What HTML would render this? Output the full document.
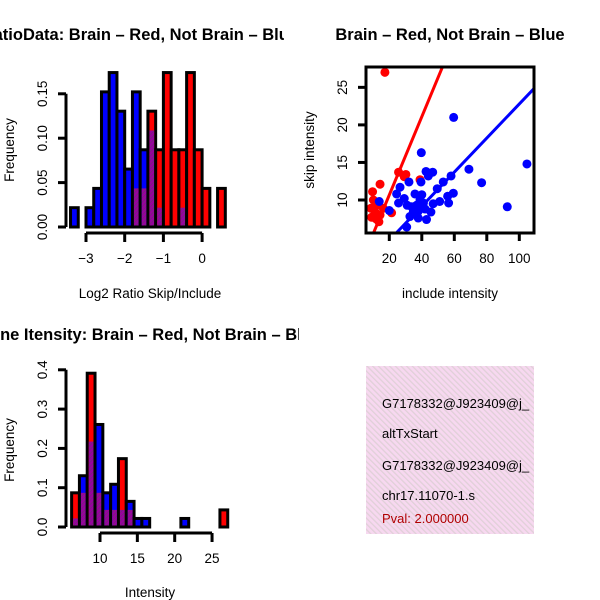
<!DOCTYPE html>
<html><head><meta charset="utf-8"><style>
html,body{margin:0;padding:0;background:#fff;width:600px;height:600px;overflow:hidden}
svg{display:block;font-family:"Liberation Sans",sans-serif}
</style></head><body>
<svg id="c" width="600" height="600" viewBox="0 0 600 600">
<defs>
<pattern id="hatch" width="3" height="3" patternUnits="userSpaceOnUse" patternTransform="rotate(45)">
<rect width="3" height="3" fill="#9a00a0"/><rect width="1" height="3" fill="#7a2080"/></pattern>
<pattern id="pink" width="4" height="4" patternUnits="userSpaceOnUse" patternTransform="rotate(-45)">
<rect width="4" height="4" fill="#f7d8f0"/><rect width="1.3" height="4" fill="#e0d0d8"/></pattern>
<clipPath id="sclip"><rect x="366" y="67" width="168" height="166"/></clipPath>
<clipPath id="bclip"><rect x="366" y="366" width="168" height="168"/></clipPath>
<clipPath id="t1clip"><rect x="0" y="0" width="284" height="60"/></clipPath>
<clipPath id="t3clip"><rect x="0" y="300" width="299" height="60"/></clipPath>
</defs>
<g clip-path="url(#t1clip)"><text x="298" y="40" font-size="16.5" font-weight="bold" text-anchor="end">RatioData: Brain – Red, Not Brain – Blue</text></g>
<text x="450" y="40" font-size="16.5" font-weight="bold" text-anchor="middle">Brain – Red, Not Brain – Blue</text>
<g clip-path="url(#t3clip)"><text x="321" y="340" font-size="16.5" font-weight="bold" text-anchor="end">Gene Itensity: Brain – Red, Not Brain – Blue</text></g>
<g id="g1"></g><g id="g2"></g><g id="g3"></g>
<g>
<rect x="366" y="366" width="168" height="168" fill="url(#pink)"/>
<g clip-path="url(#bclip)" font-size="13">
<text x="382" y="408">G7178332@J923409@j_</text>
<text x="382" y="438">altTxStart</text>
<text x="382" y="470">G7178332@J923409@j_</text>
<text x="382" y="500">chr17.11070-1.s</text>
<text x="382" y="523" fill="#b00000">Pval: 2.000000</text>
</g></g>
</svg>
<script>
// Ratio histogram data (bins of 0.2 from -3.4)
const ratioBinStart = -3.4, ratioBinWidth = 0.2;
const ratioBlueCounts = [1,0,1,2,7,8,6,3,7,4,5,1,0,0,1,0,0,0,0,0];
const ratioRedCounts  = [0,0,0,0,0,0,0,0,2,2,6,4,8,4,4,8,4,2,0,2];
const ratioTotal = 46;
const ratioXTicks = [-3,-2,-1,0];
const ratioYTicks = ["0.00","0.05","0.10","0.15"];
// Intensity histogram data
const intBinStart = 6.2, intBinWidth = 1.045;
const intBlueCounts = [1,6,10,12,4,5,2,3,1,1,0,0,0,0,1,0,0,0,0,0];
const intRedCounts  = [4,4,18,4,2,2,8,2,0,0,0,0,0,0,0,0,0,0,0,2];
const intTotal = 46;
const intXTicks = [10,15,20,25];
const intYTicks = ["0.0","0.1","0.2","0.3","0.4"];
// Scatter data
const blueInclude = [13.8,20,24.5,26.6,25.7,29.2,30.7,32.1,31,32.7,35.8,36.8,37.8,38.9,39.7,39.5,41,42.6,44,46.7,42.9,45.6,42,47,49.5,51,53.2,55.9,56.5,58,59.4,59.6,69,76.8,92.6,104.7,34.8,37.8,33.8,40];
const blueSkip = [9.8,8.6,10.8,11.7,9.6,10.2,6.4,12.4,9.3,7.8,10.8,9.3,8.5,10,16.3,12.4,9.6,13.8,13.2,13.7,7.4,8.4,8.8,9.5,11.5,9.8,12.4,10.5,9.6,13.2,10.9,21,14.1,12.3,9.1,14.8,8.4,7.6,9.1,10.7];
const redInclude = [17.3,25.7,30.2,29.2,38.9,14.3,9.7,10.2,8.7,11.2,12.2,13.6,14.3,16.3,21.4,9.1,11.8];
const redSkip = [27,13.7,13.4,13.1,12.7,12.1,11.1,10,8.9,8.4,9.3,7.1,8,8.9,8.3,7.7,7.5];
const redFit = [0.25,0.521];
const blueFit = [0.09,0.227];
const scatXTicks = [20,40,60,80,100];
const scatYTicks = [10,15,20,25];

const NS="http://www.w3.org/2000/svg";
function mk(p,tag,a){const e=document.createElementNS(NS,tag);for(const k in a)e.setAttribute(k,a[k]);p.appendChild(e);return e;}

function hist(g,o){
  const sx=v=>o.x0+(v-o.xv0)*o.xk, sy=v=>o.y0-v*o.yk;
  const ya=mk(g,'line',{x1:o.axX,x2:o.axX,y1:sy(0),y2:sy(o.yMax),stroke:'#000','stroke-width':3});
  
  
  o.yTicks.forEach((t,i)=>{
    const v=+t;
    const tk=mk(g,'line',{x1:o.axX-8,x2:o.axX,y1:sy(v),y2:sy(v),stroke:'#000','stroke-width':3});
    
    
    const tx=mk(g,'text',{x:o.axX-19,y:sy(v),'font-size':13.5,'text-anchor':'middle',transform:`rotate(-90 ${o.axX-19} ${sy(v)})`});
    
    
    tx.textContent=t;
  });
  const xa=mk(g,'line',{x1:sx(o.xTicks[0]),x2:sx(o.xTicks[o.xTicks.length-1]),y1:o.axY,y2:o.axY,stroke:'#000','stroke-width':3});
  
  
  o.xTicks.forEach(v=>{
    const tk=mk(g,'line',{x1:sx(v),x2:sx(v),y1:o.axY,y2:o.axY+9,stroke:'#000','stroke-width':3});
    
    
    const tx=mk(g,'text',{x:sx(v),y:o.axY+30,'font-size':13.5,'text-anchor':'middle'});
    
    
    tx.textContent=String(v).replace('-','\u2212');
  });
  o.blue.forEach((b,i)=>{
    const r=o.red[i], fb=b/o.total, fr=r/o.total;
    const l=sx(o.bs+i*o.bw), w=o.bw*o.xk, mx=Math.max(fb,fr), mn=Math.min(fb,fr);
    const rc=mk(g,'rect',{x:l,y:sy(mx),width:w,height:mx*o.yk,fill:fb>=fr?'#0000ff':'#ff0000',stroke:'#000','stroke-width':3});
    
    
    if(mn>0){
      const pr=mk(g,'rect',{x:l+1.5,y:sy(mn),width:w-3,height:mn*o.yk-1.5,fill:'url(#hatch)'});
      
      
    }
  });
  const t1=mk(g,'text',{x:o.ylx,y:o.yly,'font-size':13.5,'text-anchor':'middle',transform:`rotate(-90 ${o.ylx} ${o.yly})`});
  
  
  t1.textContent='Frequency';
  const t2=mk(g,'text',{x:150,y:o.xly,'font-size':13.5,'text-anchor':'middle'});
  
  
  t2.textContent=o.xlab;
}
hist(document.getElementById('g1'),{x0:86,xv0:-3,xk:38.7,y0:227,yk:888,axX:66,axY:233,yMax:0.15,
  yTicks:ratioYTicks,xTicks:ratioXTicks,blue:ratioBlueCounts,red:ratioRedCounts,total:ratioTotal,
  bs:ratioBinStart,bw:ratioBinWidth,ylx:14,yly:150,xly:298,xlab:'Log2 Ratio Skip/Include'});
hist(document.getElementById('g2'),{x0:100,xv0:10,xk:7.47,y0:527,yk:393,axX:66,axY:533,yMax:0.4,
  yTicks:intYTicks,xTicks:intXTicks,blue:intBlueCounts,red:intRedCounts,total:intTotal,
  bs:intBinStart,bw:intBinWidth,ylx:14,yly:450,xly:597,xlab:'Intensity'});

(function(){
  const g=document.getElementById('g3');
  const sx=v=>389.3+(v-20)*1.625, sy=v=>200-(v-10)*7.51;
  const cg=mk(g,'g',{'clip-path':'url(#sclip)'});
  redInclude.forEach((x,i)=>{
    const c=mk(cg,'circle',{cx:sx(x),cy:sy(redSkip[i]),r:4.5,fill:'#ff0000'});
    
    
  });
  blueInclude.forEach((x,i)=>{
    const c=mk(cg,'circle',{cx:sx(x),cy:sy(blueSkip[i]),r:4.5,fill:'#0000ff'});
    
    
  });
  [[redFit,'#ff0000','red-fit-line'],[blueFit,'#0000ff','blue-fit-line']].forEach(([f,col,nm])=>{
    const x1=0,x2=120;
    const l=mk(cg,'line',{x1:sx(x1),y1:sy(f[0]+f[1]*x1),x2:sx(x2),y2:sy(f[0]+f[1]*x2),stroke:col,'stroke-width':3});
    
    
  });
  const b=mk(g,'rect',{x:366,y:67,width:168,height:166,fill:'none',stroke:'#000','stroke-width':3});
  
  
  scatXTicks.forEach(v=>{
    const tk=mk(g,'line',{x1:sx(v),x2:sx(v),y1:233,y2:241,stroke:'#000','stroke-width':3});
    
    
    const tx=mk(g,'text',{x:sx(v),y:263,'font-size':13.5,'text-anchor':'middle'});
    
    
    tx.textContent=v;
  });
  scatYTicks.forEach(v=>{
    const tk=mk(g,'line',{x1:358,x2:366,y1:sy(v),y2:sy(v),stroke:'#000','stroke-width':3});
    
    
    const tx=mk(g,'text',{x:347,y:sy(v),'font-size':13.5,'text-anchor':'middle',transform:`rotate(-90 347 ${sy(v)})`});
    
    
    tx.textContent=v;
  });
  const t1=mk(g,'text',{x:314,y:150,'font-size':13.5,'text-anchor':'middle',transform:'rotate(-90 314 150)'});
  
  
  t1.textContent='skip intensity';
  const t2=mk(g,'text',{x:450,y:298,'font-size':13.5,'text-anchor':'middle'});
  
  
  t2.textContent='include intensity';
})();
</script>
</body></html>
